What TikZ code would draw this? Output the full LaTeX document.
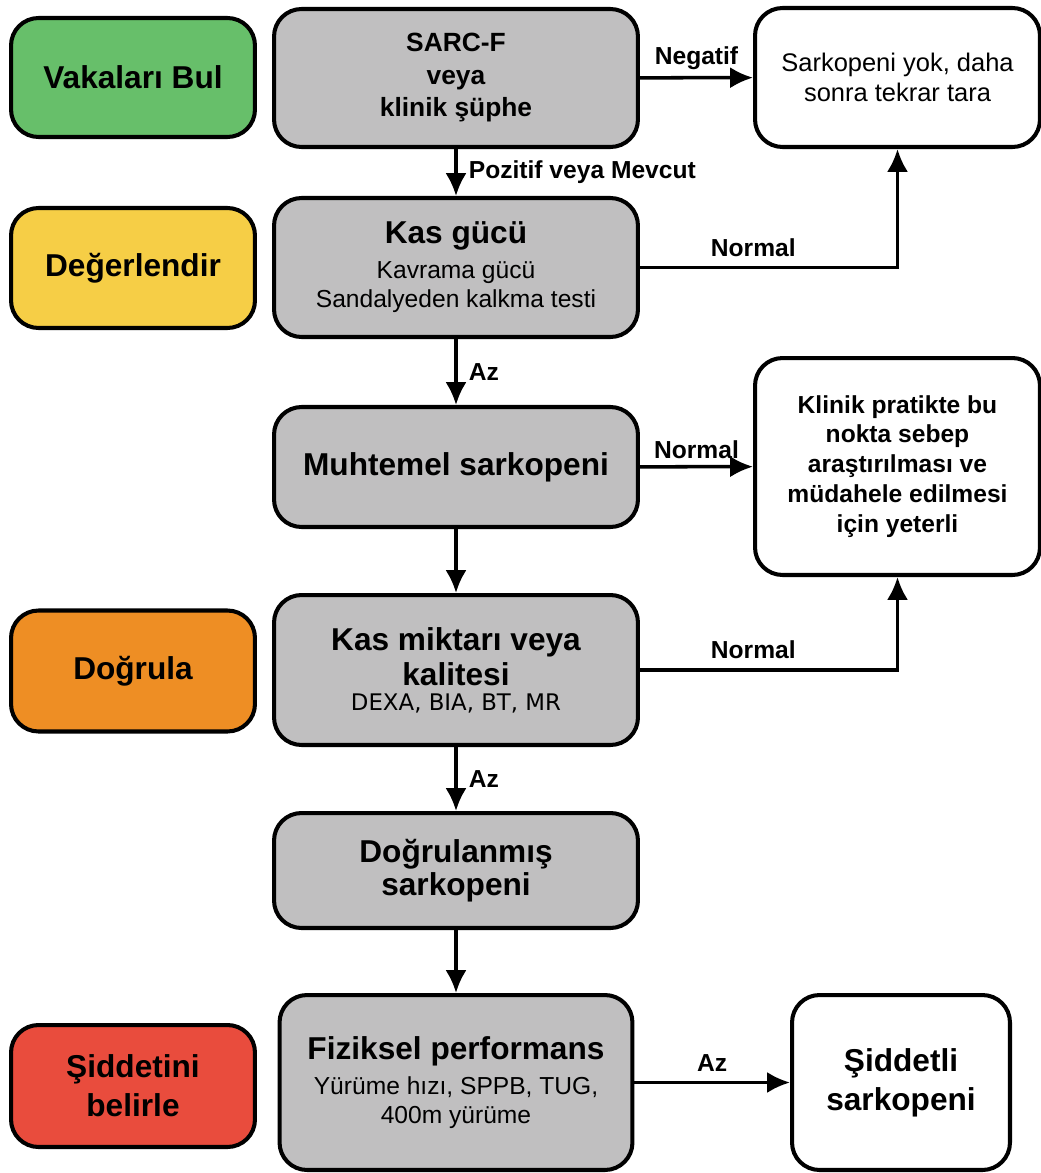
\documentclass[tikz,border=0pt]{standalone}
\usepackage{fontspec}
\setmainfont{Liberation Sans}
\newfontfamily\dexafont{DejaVu Sans}
\usepackage{tikz}
\usetikzlibrary{arrows.meta}
\definecolor{findgreen}{RGB}{103,191,106}
\definecolor{assessyellow}{RGB}{246,206,70}
\definecolor{confirmorange}{RGB}{238,142,36}
\definecolor{sevred}{RGB}{233,76,61}
\definecolor{boxgray}{RGB}{192,191,192}
\newcommand{\subtxt}[1]{{\mdseries\fontsize{14}{16.5}\selectfont #1}}
\tikzset{
 phase/.style
  = {rectangle, draw, line width=2.3pt, rounded corners=0.55cm, minimum width=4.88cm,
     align=center, font=\bfseries\fontsize{18}{22}\selectfont},
 proc/.style
  = {rectangle, draw, fill=boxgray, line width=2.3pt, rounded corners=0.55cm,
     minimum width=7.28cm, align=center, font=\bfseries\fontsize{18}{19}\selectfont},
 outc/.style
  = {rectangle, draw, fill=white, line width=2.3pt, rounded corners=0.55cm,
     minimum width=5.7cm, align=center, font=\bfseries\fontsize{14}{17}\selectfont},
 arr/.style
  = {draw, line width=2pt, -{Latex[length=13pt,width=12pt]}},
 lbl/.style
  = {font=\bfseries\fontsize{14}{16}\selectfont},
}

\begin{document}
\begin{tikzpicture}[x=0.02cm, y=-0.02cm]
\useasboundingbox (0,0) rectangle (1041,1173);

% Phases
\node[phase, fill=findgreen, minimum height=2.38cm] (find) at (133,77.5) {Vakaları Bul};
\node[phase, fill=assessyellow, minimum height=2.4cm] (assess) at (133,268) {Değerlendir};
\node[phase, fill=confirmorange, minimum height=2.42cm] (confirm) at (133,671) {Doğrula};
\node[phase, fill=sevred, minimum height=2.44cm] (severity) at (133,1086) {Şiddetini\\belirle};

% Main steps
\node[proc, minimum height=2.76cm, font=\bfseries\fontsize{15}{18.5}\selectfont] (sarcf) at (456,78)
  {SARC-F\\veya\\klinik şüphe};
\node[proc, minimum height=2.78cm] (strength) at (456,267.5)
  {Kas gücü\\[1pt]\subtxt{Kavrama gücü}\\[-2.5pt]\subtxt{Sandalyeden kalkma testi}};
\node[proc, minimum height=2.4cm] (probable) at (456,467) {Muhtemel sarkopeni};
\node[proc, minimum height=3cm] (quantity) at (456,670)
  {Kas miktarı veya\\[1pt]kalitesi\\[-5pt]{\mdseries\dexafont\fontsize{13}{14}\selectfont DEXA, BIA, BT, MR}};
\node[proc, minimum height=2.3cm] (confirmed) at (456,870.5) {Doğrulanmış\\sarkopeni};
\node[proc, minimum width=7.06cm, minimum height=3.5cm] (perf) at (456,1082.5)
  {Fiziksel performans\\[1pt]\subtxt{Yürüme hızı, SPPB, TUG,}\\[-2.5pt]\subtxt{400m yürüme}};

% Outcomes
\node[outc, minimum height=2.78cm, font=\fontsize{14.5}{17}\selectfont] (nosarc) at (897.5,77.5)
  {Sarkopeni yok, daha\\sonra tekrar tara};
\node[outc, minimum height=4.34cm] (clinic) at (897.5,466.5)
  {Klinik pratikte bu\\nokta sebep\\araştırılması ve\\müdahele edilmesi\\için yeterli};
\node[outc, minimum width=4.36cm, minimum height=3.5cm, font=\bfseries\fontsize{18}{22}\selectfont] (severe) at (901,1082.5)
  {Şiddetli\\sarkopeni};

% Connectors
\draw[arr] (sarcf) -- node[lbl, above=0pt] {Negatif} (nosarc);
\draw[arr] (sarcf) -- node[lbl, right=3pt] {Pozitif veya Mevcut} (strength);
\draw[arr] (strength.east) -| node[lbl, above=2pt, pos=0.22] {Normal} (nosarc.south);
\draw[arr] (strength) -- node[lbl, right=3pt] {Az} (probable);
\draw[arr] (probable) -- node[lbl, above=0pt] {Normal} (clinic);
\draw[arr] (probable) -- (quantity);
\draw[arr] (quantity.east) -| node[lbl, above=2pt, pos=0.22] {Normal} (clinic.south);
\draw[arr] (quantity) -- node[lbl, right=3pt] {Az} (confirmed);
\draw[arr] (confirmed) -- (perf);
\draw[arr] (perf.east) -- node[lbl, above=2pt] {Az} (severe.west |- perf.east);

\end{tikzpicture}
\end{document}
